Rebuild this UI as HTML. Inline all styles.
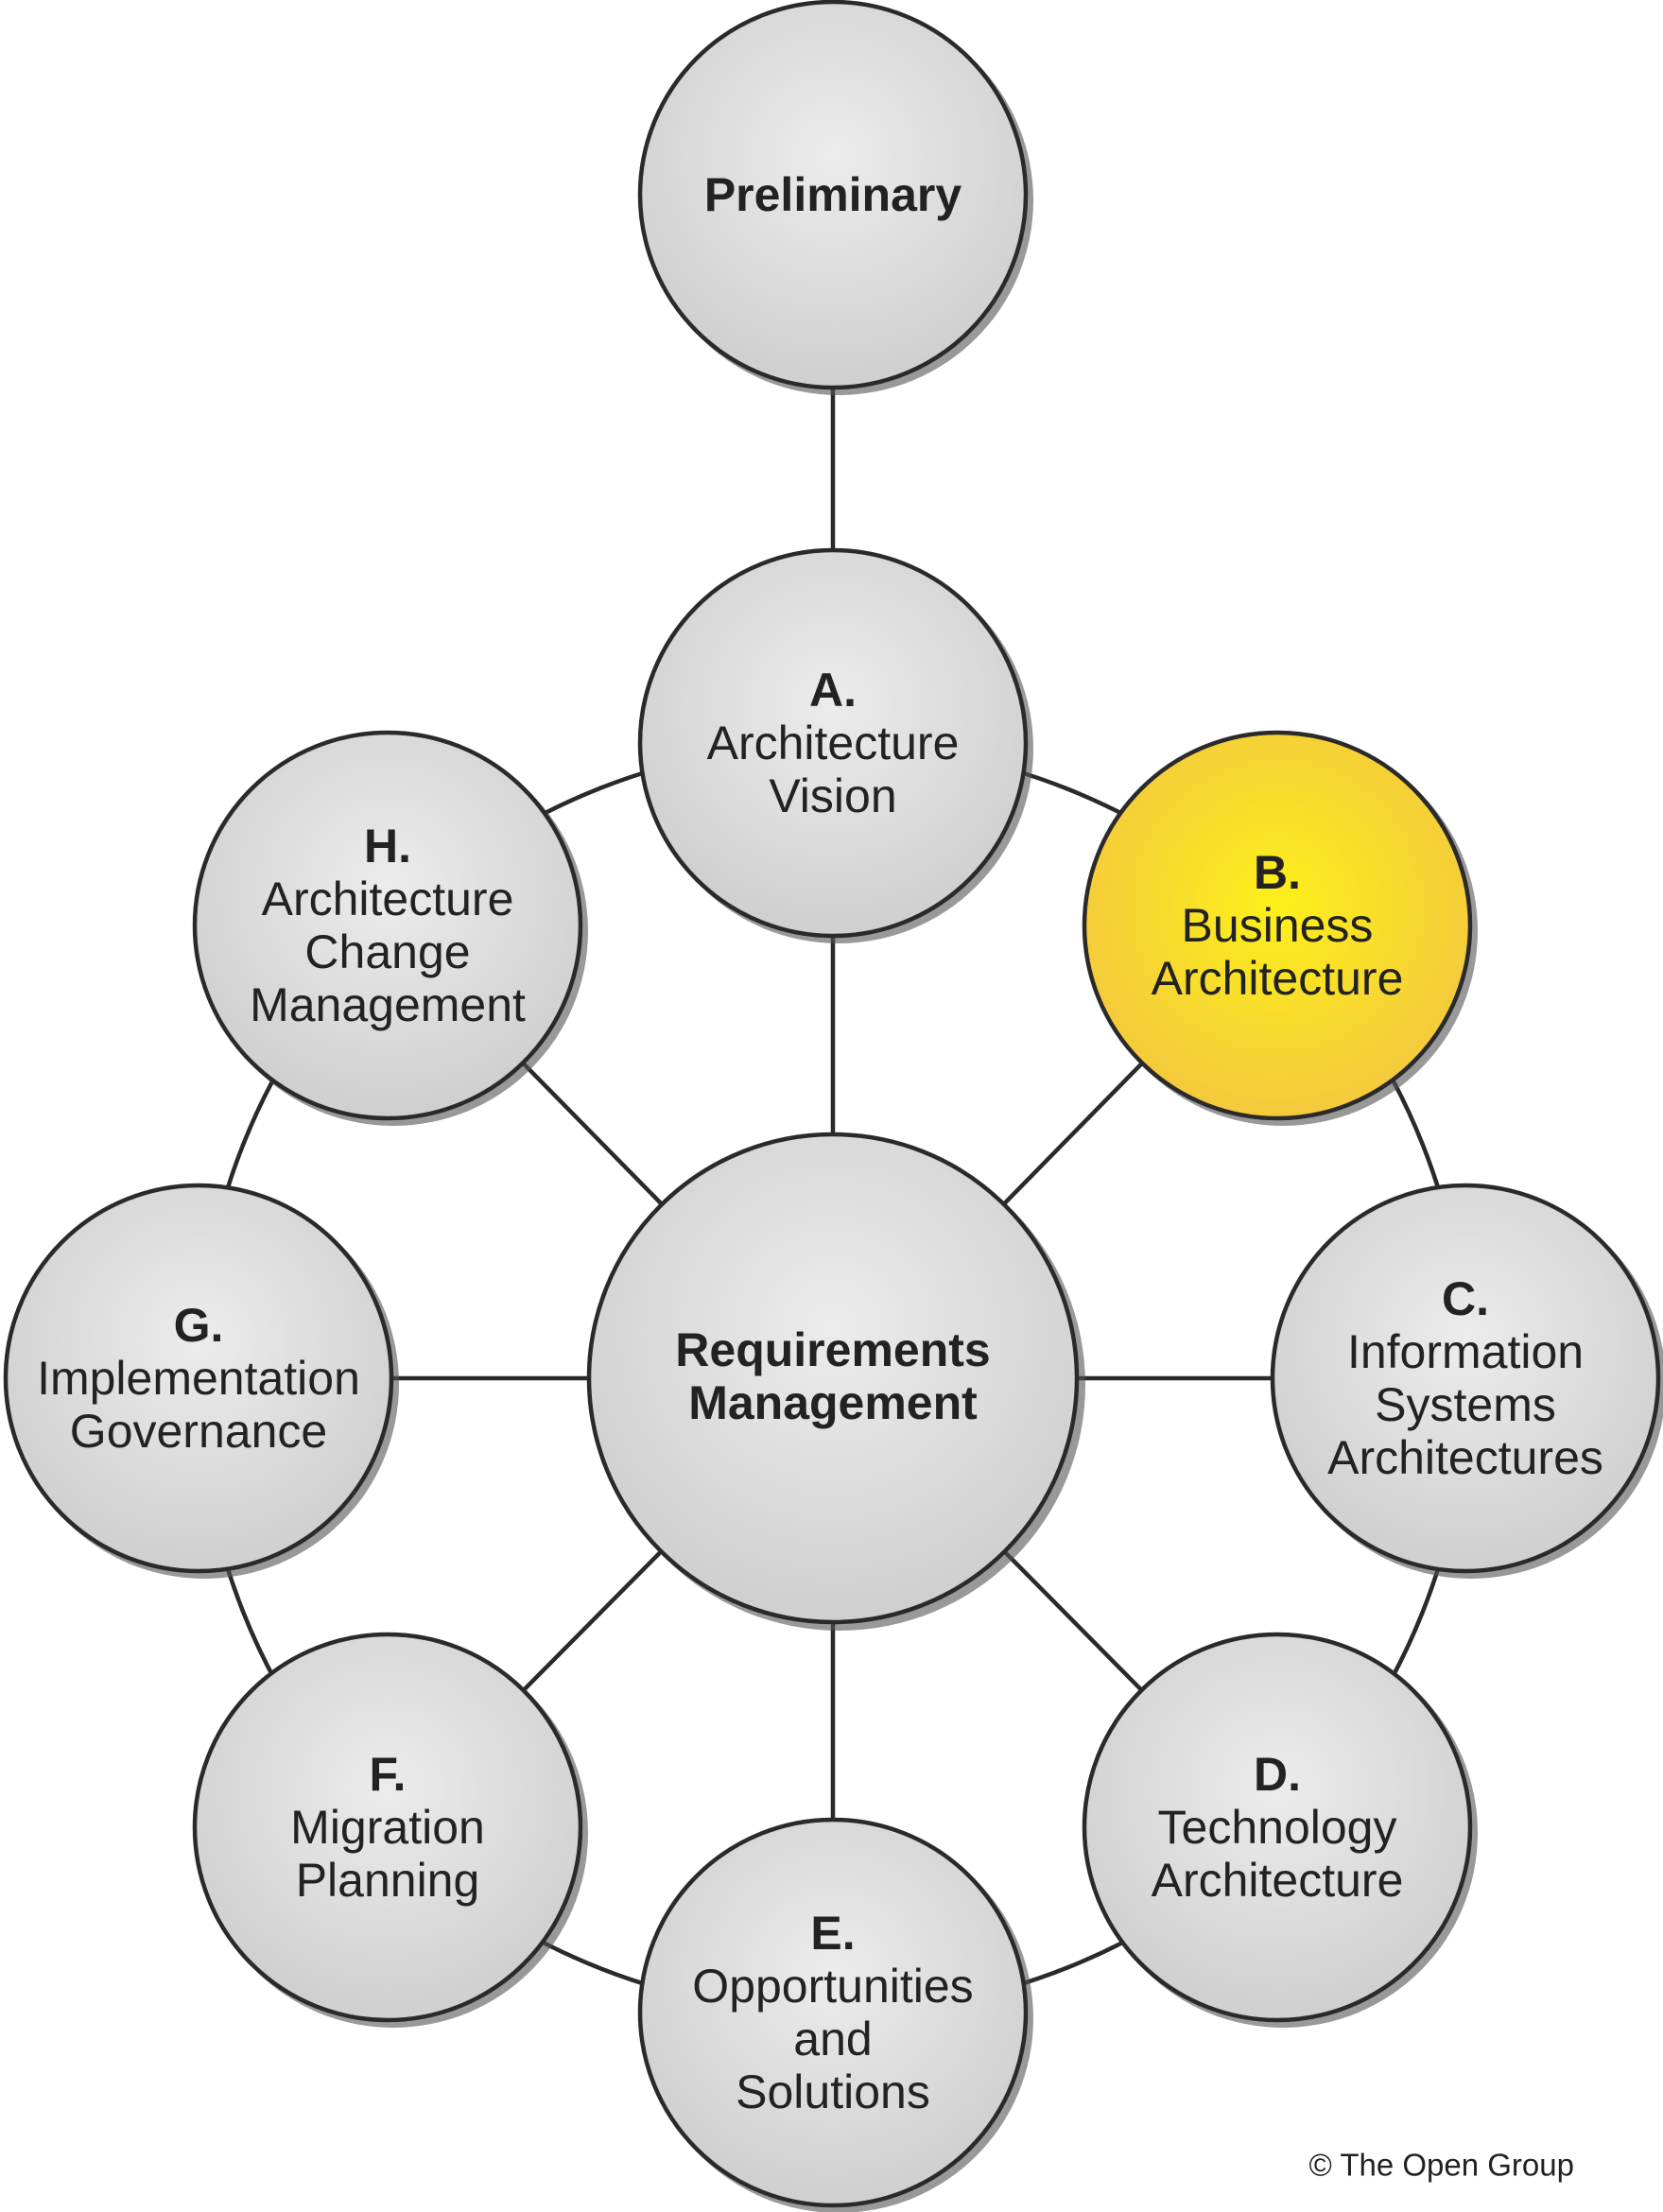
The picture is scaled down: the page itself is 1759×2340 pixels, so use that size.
<!DOCTYPE html>
<html><head><meta charset="utf-8"><style>html,body{margin:0;padding:0;background:#fff}svg{display:block}</style></head>
<body>
<svg width="1759" height="2340" viewBox="0 0 1759 2340" xmlns="http://www.w3.org/2000/svg" font-family="Liberation Sans, Arial, sans-serif">
<defs>
<radialGradient id="g" cx="50%" cy="40%" r="60%"><stop offset="0" stop-color="#ececec"/><stop offset="1" stop-color="#cfcfcf"/></radialGradient>
<radialGradient id="y" cx="50%" cy="45%" r="60%"><stop offset="0" stop-color="#fdf01a"/><stop offset="1" stop-color="#f3c640"/></radialGradient>
</defs>
<g stroke="#2a2a2a" stroke-width="4.5" fill="none">
<circle cx="881" cy="1458" r="671"/>
<line x1="881" y1="206" x2="881" y2="786"/>
<line x1="881" y1="1458" x2="881" y2="786"/>
<line x1="881" y1="1458" x2="881" y2="2129"/>
<line x1="881" y1="1458" x2="210" y2="1458"/>
<line x1="881" y1="1458" x2="1550" y2="1458"/>
<line x1="881" y1="1458" x2="1351" y2="979"/>
<line x1="881" y1="1458" x2="410" y2="979"/>
<line x1="881" y1="1458" x2="1351" y2="1933"/>
<line x1="881" y1="1458" x2="410" y2="1933"/>
</g>
<g fill="#555" opacity="0.6">
<circle cx="887" cy="212" r="206"/><circle cx="887" cy="792" r="206"/><circle cx="1357" cy="985" r="206"/>
<circle cx="1556" cy="1464" r="206"/><circle cx="1357" cy="1939" r="206"/><circle cx="887" cy="2135" r="206"/>
<circle cx="416" cy="1939" r="206"/><circle cx="216" cy="1464" r="206"/><circle cx="416" cy="985" r="206"/>
<circle cx="888" cy="1465" r="260"/>
</g>
<g stroke="#2a2a2a" stroke-width="4.5">
<circle cx="881" cy="206" r="204" fill="url(#g)"/>
<circle cx="881" cy="786" r="204" fill="url(#g)"/>
<circle cx="1351" cy="979" r="204" fill="url(#y)"/>
<circle cx="1550" cy="1458" r="204" fill="url(#g)"/>
<circle cx="1351" cy="1933" r="204" fill="url(#g)"/>
<circle cx="881" cy="2129" r="204" fill="url(#g)"/>
<circle cx="410" cy="1933" r="204" fill="url(#g)"/>
<circle cx="210" cy="1458" r="204" fill="url(#g)"/>
<circle cx="410" cy="979" r="204" fill="url(#g)"/>
<circle cx="881" cy="1458" r="258" fill="url(#g)"/>
</g>
<g fill="#222" font-size="50" text-anchor="middle" dominant-baseline="central">
<text x="881" y="206" font-weight="bold">Preliminary</text>
<text x="881" y="730" font-weight="bold">A.</text><text x="881" y="786">Architecture</text><text x="881" y="842">Vision</text>
<text x="1351" y="923" font-weight="bold">B.</text><text x="1351" y="979">Business</text><text x="1351" y="1035">Architecture</text>
<text x="1550" y="1374" font-weight="bold">C.</text><text x="1550" y="1430">Information</text><text x="1550" y="1486">Systems</text><text x="1550" y="1542">Architectures</text>
<text x="1351" y="1877" font-weight="bold">D.</text><text x="1351" y="1933">Technology</text><text x="1351" y="1989">Architecture</text>
<text x="881" y="2045" font-weight="bold">E.</text><text x="881" y="2101">Opportunities</text><text x="881" y="2157">and</text><text x="881" y="2213">Solutions</text>
<text x="410" y="1877" font-weight="bold">F.</text><text x="410" y="1933">Migration</text><text x="410" y="1989">Planning</text>
<text x="210" y="1402" font-weight="bold">G.</text><text x="210" y="1458">Implementation</text><text x="210" y="1514">Governance</text>
<text x="410" y="895" font-weight="bold">H.</text><text x="410" y="951">Architecture</text><text x="410" y="1007">Change</text><text x="410" y="1063">Management</text>
<text x="881" y="1428" font-weight="bold">Requirements</text><text x="881" y="1484" font-weight="bold">Management</text>
</g>
<text x="1665" y="2290" font-size="33" fill="#222" text-anchor="end" dominant-baseline="central">© The Open Group</text>
</svg>
</body></html>
